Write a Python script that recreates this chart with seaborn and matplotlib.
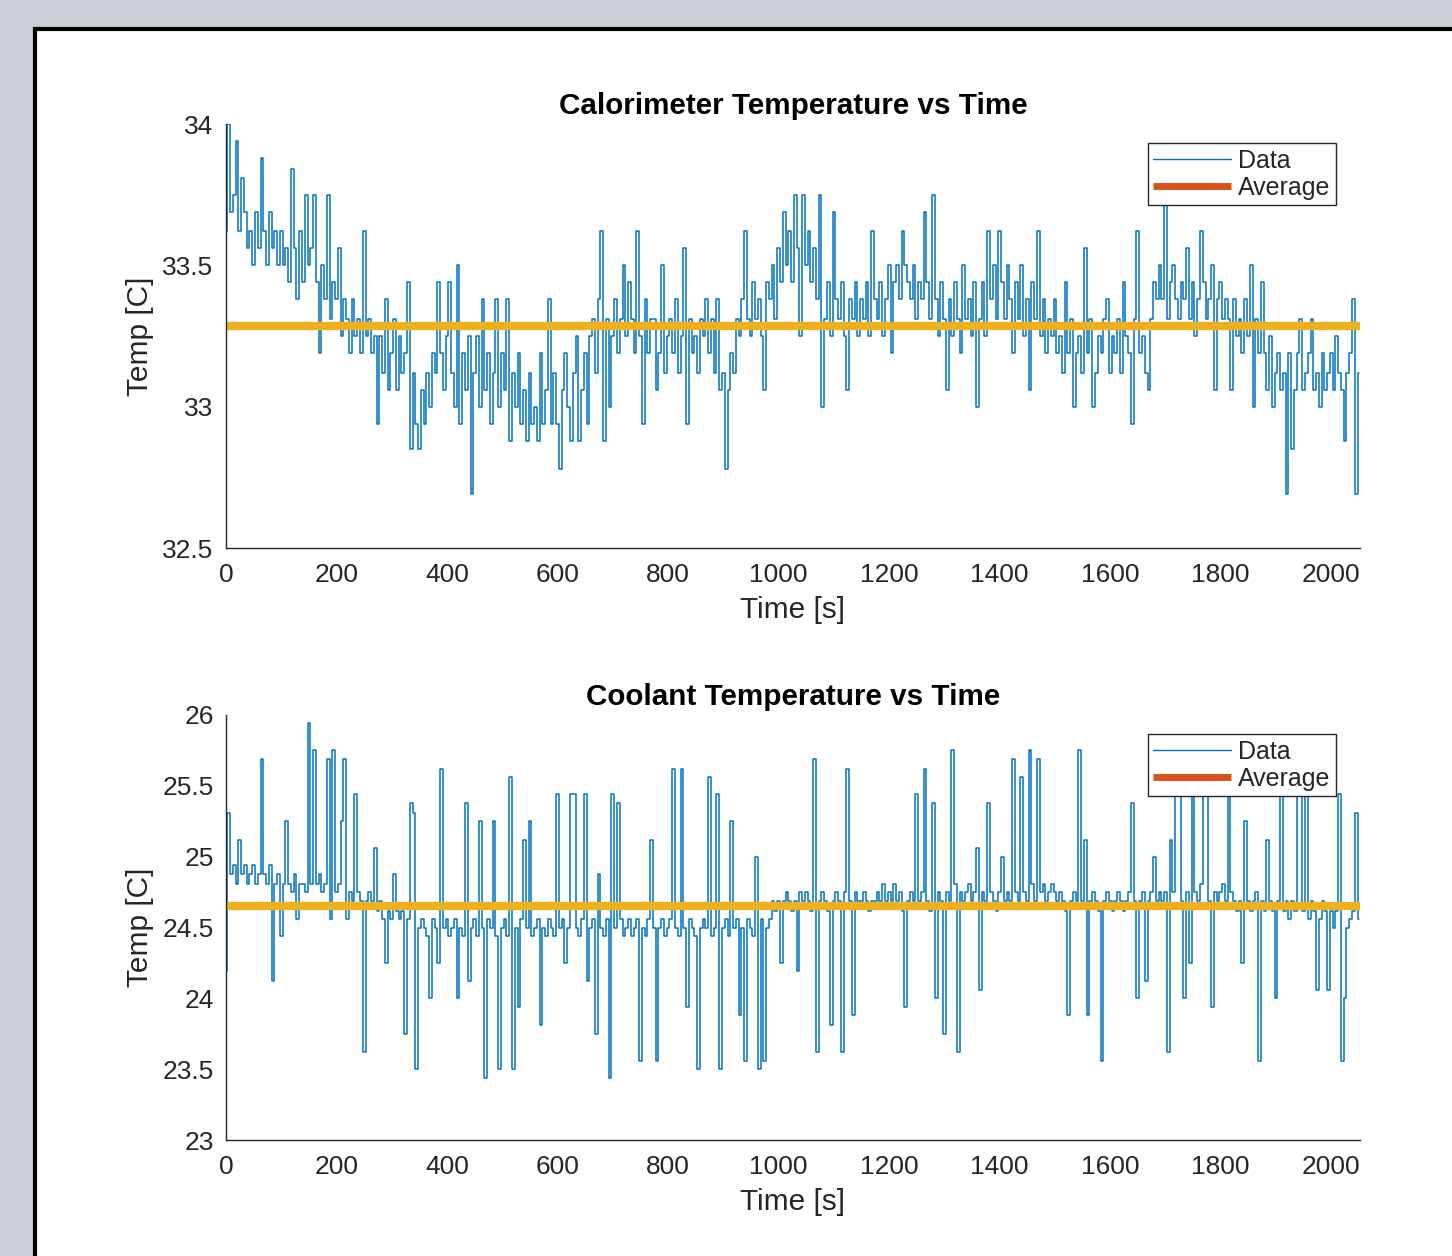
import numpy as np
import pandas as pd
import matplotlib
matplotlib.use("Agg")
import matplotlib.pyplot as plt
from matplotlib.lines import Line2D
from matplotlib.patches import Rectangle
from matplotlib.ticker import FormatStrFormatter
import seaborn as sns

# readings kept every 5 s
sample_step = 5

calorimeter_temp = [
    33.62, 34.0, 33.69, 33.75, 33.94, 33.62, 33.81,  # 0-30 s
    33.69, 33.56, 33.62, 33.5, 33.69, 33.56, 33.88, 33.62, 33.5, 33.69, 33.56, 33.62, 33.5, 33.62,
    33.5, 33.56, 33.44, 33.84, 33.56, 33.38, 33.62, 33.44, 33.75, 33.5, 33.56, 33.75,
    33.44, 33.19, 33.5, 33.38, 33.75, 33.31, 33.44, 33.38,
    33.56, 33.25, 33.38, 33.31, 33.19, 33.38, 33.25, 33.31, 33.19, 33.62, 33.25, 33.31, 33.19, 33.25,
    32.94, 33.25, 33.12, 33.38, 33.06, 33.19, 33.31, 33.06, 33.25, 33.12, 33.19,
    33.44, 32.85, 33.12, 32.94, 32.85, 33.06, 32.94, 33.12, 33.0, 33.19,
    33.12, 33.44, 33.19, 33.06, 33.25, 33.44, 33.12, 33.0, 33.5, 32.94, 33.19, 33.06, 33.25,
    32.69, 33.12, 33.25, 33.0, 33.38, 33.06, 33.19, 32.94, 33.12, 33.38, 33.0, 33.19, 33.06, 33.38, 32.88, 33.12, 33.0, 33.19,
    32.94, 33.06, 32.88, 33.12, 32.94, 33.0, 32.88, 33.19, 32.94, 33.06, 33.38, 32.94,
    33.12, 32.94, 32.78, 33.06, 33.19, 33.0, 32.88, 33.12, 33.25, 32.88, 33.06, 33.19, 32.94, 33.25, 33.31, 33.12, 33.38, 33.62,
    32.88, 33.31, 33.0, 33.25, 33.38, 33.19, 33.31, 33.5, 33.25, 33.44, 33.31, 33.19, 33.62, 33.25, 32.94, 33.38, 33.19, 33.31,
    33.31, 33.06, 33.19, 33.5, 33.12, 33.25, 33.31, 33.19, 33.38, 33.12, 33.25, 33.56, 32.94, 33.31, 33.19, 33.25, 33.12, 33.31,
    33.25, 33.38, 33.19, 33.31, 33.12, 33.38, 33.06, 33.12, 32.78, 33.06, 33.19, 33.12, 33.31, 33.25, 33.38, 33.62,
    33.31, 33.25, 33.44, 33.31, 33.38, 33.25, 33.06, 33.44, 33.38, 33.5, 33.31, 33.56,
    33.44, 33.69, 33.5, 33.62, 33.44, 33.75, 33.56, 33.25, 33.75, 33.5, 33.62, 33.44, 33.56, 33.38, 33.75,
    33.0, 33.31, 33.44, 33.25, 33.69, 33.38, 33.31, 33.44, 33.25, 33.06, 33.38, 33.31, 33.44, 33.25, 33.38,
    33.31, 33.44, 33.25, 33.62, 33.38, 33.31, 33.44, 33.25, 33.38, 33.5, 33.19, 33.44, 33.5,
    33.38, 33.62, 33.5, 33.44, 33.38, 33.5, 33.31, 33.44, 33.38, 33.69, 33.44, 33.31, 33.75,
    33.38, 33.25, 33.44, 33.31, 33.06, 33.38, 33.25, 33.44, 33.31, 33.19, 33.5, 33.31,
    33.38, 33.25, 33.44, 33.0, 33.31, 33.44, 33.25, 33.62, 33.38, 33.5, 33.31, 33.62,
    33.44, 33.31, 33.5, 33.38, 33.19, 33.44, 33.31, 33.5, 33.25, 33.38, 33.06,
    33.44, 33.31, 33.62, 33.25, 33.38, 33.19, 33.31, 33.25, 33.38, 33.19,
    33.25, 33.12, 33.44, 33.19, 33.31, 33.0, 33.19, 33.25, 33.12, 33.56, 33.19, 33.31, 33.0,
    33.12, 33.25, 33.19, 33.31, 33.38, 33.12, 33.25, 33.19, 33.31, 33.12, 33.44, 33.25, 33.19,
    32.94, 33.31, 33.62, 33.19, 33.25, 33.12, 33.06, 33.31, 33.44, 33.38, 33.5,
    33.38, 33.75, 33.31, 33.44, 33.5, 33.38, 33.31, 33.44, 33.38, 33.56, 33.31, 33.44,
    33.25, 33.38, 33.62, 33.44, 33.31, 33.38, 33.5, 33.06, 33.38, 33.44, 33.31, 33.38,
    33.31, 33.06, 33.38, 33.25, 33.31, 33.19, 33.38, 33.25, 33.5, 33.0, 33.31, 33.19, 33.44,
    33.19, 33.06, 33.25, 33.0, 33.12, 33.19, 33.06, 33.12, 32.69, 33.19, 32.85, 33.06,
    33.19, 33.31, 33.06, 33.12, 33.19, 33.31, 33.06, 33.12, 33.0, 33.19, 33.06, 33.12,
    33.19, 33.06, 33.25, 33.12, 33.06, 32.88, 33.12, 33.19, 33.38, 32.69, 33.12,
]

coolant_temp = [
    24.19, 25.31, 24.88, 24.94, 24.81, 25.12, 24.88, 24.94, 24.81, 24.88,  # 0-45 s
    24.94, 24.81, 24.88, 25.69, 24.88, 24.81, 24.94, 24.12, 24.81, 24.88,
    24.44, 24.81, 25.25, 24.81, 24.75, 24.88, 24.56, 24.81, 24.81, 24.75,
    25.94, 24.81, 25.75, 24.81, 24.88, 24.75, 24.81, 25.69, 24.56, 25.75,
    24.75, 24.81, 25.25, 25.69, 24.56, 24.75, 24.69, 25.44, 24.75, 24.69,
    23.62, 24.69, 24.75, 24.69, 25.06, 24.62, 24.69, 24.56, 24.25, 24.62,
    24.56, 24.88, 24.62, 24.56, 24.62, 23.75, 24.56, 25.38, 25.31, 23.5,
    24.5, 24.56, 24.5, 24.44, 24.0, 24.56, 24.5, 24.25, 25.62, 24.5,
    24.56, 24.44, 24.5, 24.56, 24.0, 24.5, 24.44, 25.38, 24.12, 24.5,
    24.56, 24.44, 25.25, 24.5, 23.44, 24.56, 24.5, 25.25, 24.44, 23.5,
    24.5, 24.56, 24.44, 25.56, 23.5, 24.5, 23.94, 24.56, 25.12, 24.5,
    25.25, 24.44, 24.5, 24.56, 23.81, 24.5, 24.44, 24.56, 24.5, 24.44,
    25.44, 24.5, 24.56, 24.25, 24.5, 25.44, 25.44, 24.5, 24.44, 24.56,
    25.44, 24.12, 24.5, 24.56, 23.75, 24.88, 24.5, 24.44, 24.56, 23.44,
    25.44, 24.5, 25.38, 24.56, 24.44, 24.5, 24.56, 24.44, 24.5, 24.56,
    23.56, 24.5, 24.44, 24.56, 25.12, 24.5, 23.56, 24.5, 24.56, 24.44,
    24.5, 24.56, 25.62, 24.5, 24.44, 25.62, 24.5, 23.94, 24.56, 24.5,
    24.44, 23.5, 24.5, 24.56, 24.5, 25.56, 24.44, 24.5, 25.44, 23.5,
    24.5, 24.56, 24.44, 25.25, 24.5, 24.56, 23.88, 24.5, 23.56, 24.56,
    24.5, 24.44, 25.0, 23.5, 24.56, 23.56, 24.5, 24.56, 24.69, 24.62,
    24.69, 24.25, 24.69, 24.75, 24.69, 24.62, 24.69, 24.19, 24.75, 24.69,
    24.75, 24.69, 24.62, 25.69, 23.62, 24.69, 24.75, 24.69, 24.62, 23.81,
    24.69, 24.75, 24.69, 23.62, 24.75, 25.62, 24.69, 23.88, 24.75, 24.69,
    24.69, 24.75, 24.69, 24.62, 24.69, 24.69, 24.75, 24.69, 24.81, 24.69,
    24.75, 24.69, 24.81, 24.69, 24.75, 24.62, 23.94, 24.69, 24.75, 24.69,
    25.44, 24.69, 24.75, 25.62, 24.69, 24.62, 25.38, 24.0, 24.75, 24.69,
    23.75, 24.75, 24.69, 25.75, 24.81, 23.62, 24.75, 24.69, 24.75, 24.81,
    24.69, 24.75, 25.06, 24.06, 24.75, 24.69, 25.38, 24.75, 24.69, 24.62,
    24.75, 25.0, 24.69, 24.75, 24.69, 25.69, 24.75, 24.69, 25.56, 24.75,
    24.69, 25.75, 24.81, 24.69, 25.69, 24.75, 24.81, 24.69, 24.75, 24.81,
    24.75, 24.69, 24.75, 24.69, 24.62, 23.88, 24.69, 24.75, 24.69, 25.75,
    24.69, 25.12, 23.88, 24.69, 24.75, 24.69, 24.62, 23.56, 24.69, 24.75,
    24.69, 24.62, 24.69, 24.75, 24.69, 24.62, 24.69, 24.75, 25.38, 24.69,
    24.0, 24.69, 24.75, 24.12, 24.69, 24.75, 25.0, 24.69, 24.75, 24.69,
    24.75, 23.62, 25.12, 24.75, 25.56, 25.5, 24.69, 24.0, 24.75, 24.25,
    25.56, 24.75, 24.69, 24.81, 25.56, 25.56, 24.69, 23.94, 24.75, 24.69,
    24.75, 24.81, 24.69, 25.56, 24.75, 24.69, 24.62, 24.69, 24.25, 25.25,
    24.69, 24.62, 24.69, 24.75, 23.56, 24.69, 24.62, 25.12, 24.69, 24.62,
    24.0, 24.69, 25.56, 24.62, 24.69, 24.56, 24.69, 24.62, 25.56, 25.56,
    24.62, 25.5, 24.56, 24.69, 24.62, 24.06, 24.56, 24.69, 24.62, 24.06,
    24.62, 24.5, 24.62, 25.44, 23.56, 24.0, 24.5, 24.56, 24.62, 25.31,
    24.56,
]

# averages as drawn in the original
calorimeter_avg = 33.285
coolant_avg = 24.654

x_ticks = [0, 200, 400, 600, 800, 1000, 1200, 1400, 1600, 1800, 2000]
calorimeter_yticks = [32.5, 33, 33.5, 34]
coolant_yticks = [23, 23.5, 24, 24.5, 25, 25.5, 26]
titles = ["Calorimeter Temperature vs Time", "Coolant Temperature vs Time"]
legend_labels = ["Data", "Average"]

data_color = "#0072BD"
avg_color = "#EDB120"
avg_legend_color = "#D95319"
ink = "#262626"

sns.set_style("white")
plt.rcParams["font.family"] = ["Liberation Sans", "DejaVu Sans"]

fig = plt.figure(figsize=(14.52, 12.56), dpi=100)
fig.patch.set_facecolor("#cacfd5")
# white figure window with dark frame, cut off at right/bottom like the screenshot
fig.add_artist(Rectangle((35 / 1452, -0.05), 1.2, 1 - 29 / 1256 + 0.05,
                         transform=fig.transFigure, facecolor="white",
                         edgecolor="black", linewidth=3, zorder=-1))

ax1 = fig.add_axes([226 / 1452, 1 - 548 / 1256, 1134 / 1452, 424 / 1256])
ax2 = fig.add_axes([226 / 1452, 1 - 1140 / 1256, 1134 / 1452, 425 / 1256])

panels = [
    (ax1, calorimeter_temp, calorimeter_avg, titles[0], calorimeter_yticks),
    (ax2, coolant_temp, coolant_avg, titles[1], coolant_yticks),
]

for ax, temps, avg, title, yticks in panels:
    df = pd.DataFrame({"time": np.arange(len(temps)) * sample_step, "temp": temps})
    df["avg"] = avg
    sns.lineplot(data=df, x="time", y="temp", ax=ax, color=data_color,
                 linewidth=1.1, drawstyle="steps-mid")
    sns.lineplot(data=df, x="time", y="avg", ax=ax, color=avg_color, linewidth=6)

    ax.set_facecolor("white")
    ax.set_xlim(0, 2052)
    ax.set_ylim(yticks[0], yticks[-1])
    ax.set_xticks(x_ticks)
    ax.set_yticks(yticks)
    ax.yaxis.set_major_formatter(FormatStrFormatter("%g"))
    ax.tick_params(direction="in", length=7, width=1, colors=ink, labelsize=19)
    ax.tick_params(axis="x", pad=11)
    ax.tick_params(axis="y", pad=9)
    for side in ["top", "right"]:
        ax.spines[side].set_visible(False)
    for side in ["left", "bottom"]:
        ax.spines[side].set_color(ink)
        ax.spines[side].set_linewidth(1)

    ax.set_title(title, fontsize=21.3, fontweight="bold", color="black", pad=7)
    ax.set_xlabel("Time [s]", fontsize=21.5, color=ink, labelpad=6)
    ax.set_ylabel("Temp [C]", fontsize=21.5, color=ink, labelpad=6)

    handles = [Line2D([], [], color=data_color, linewidth=1.0),
               Line2D([], [], color=avg_legend_color, linewidth=5,
                      solid_capstyle="butt")]
    leg = ax.legend(handles, legend_labels, loc="upper right",
                    bbox_to_anchor=(0.9788, 0.955), fontsize=18, frameon=True,
                    fancybox=False, framealpha=1, edgecolor=ink, borderpad=0.22,
                    handlelength=3.1, handletextpad=0.3, labelspacing=0.12,
                    borderaxespad=0)
    leg.get_frame().set_linewidth(1)

fig.savefig("out.png", dpi=100, facecolor=fig.get_facecolor())
